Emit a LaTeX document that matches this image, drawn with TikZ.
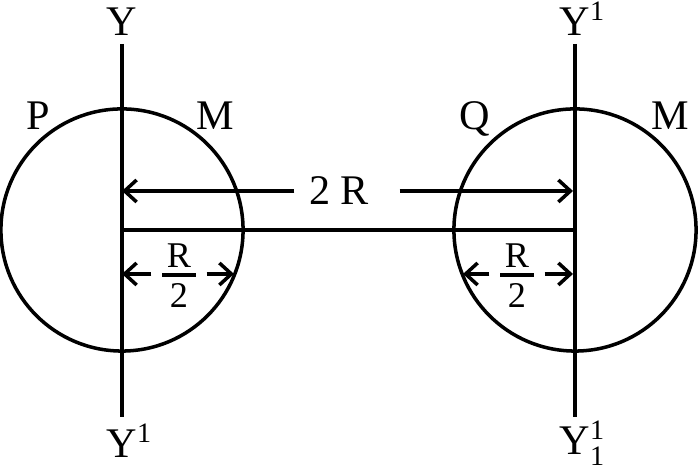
\documentclass[tikz,border=0pt]{standalone}
\usepackage{amsmath}
\usepackage{fontspec}
\setmainfont{Liberation Serif}
\usetikzlibrary{arrows.meta}
\newcommand\rhalf{\vbox{\hbox to 9.6pt{\hss R\hss}\kern1.4pt\hrule height 1.2pt\kern2pt\hbox to 9.6pt{\hss 2\hss}}}

\begin{document}
\begin{tikzpicture}
[x=.01cm,y=.01cm,line width=1pt]
\tikzset{lbl/.style={font=\fontsize{12}{14}\selectfont,inner sep=0pt}}
\tikzset{frc/.style={font=\fontsize{10.3}{12}\selectfont,inner sep=0pt}}
\tikzset{arr/.style={-{Straight Barb[length=1.2mm,width=2.2mm]}}}
\useasboundingbox (0,0) rectangle (699,474);
\draw (122,244) circle [radius=1.21cm];
\draw (575,244) circle [radius=1.21cm];
\coordinate (a1) at (122,430);
\coordinate (a2) at (122,57);
\coordinate (b1) at (575,430);
\coordinate (b2) at (575,57);
\coordinate (c1) at (122,244);
\coordinate (c2) at (575,244);
\coordinate (d1) at (122,283);
\coordinate (d2) at (573,283);
\coordinate (e1) at (122,200);
\coordinate (e2) at (234,200);
\coordinate (f1) at (463,200);
\coordinate (f2) at (573,200);
\node [lbl,anchor=base] (y1) at (122,438) {Y};
\node [lbl,anchor=base] (y2) at (122,16) {Y\rlap{$^{\text{1}}$}};
\node [lbl,anchor=base] (y3) at (575,438) {Y\rlap{$^{\text{1}}$}};
\node [lbl,anchor=base] (y4) at (575,19) {Y\rlap{$^{\text{1}}_{\text{1}}$}};
\node [lbl,anchor=base] (p) at (38,344) {P};
\node [lbl,anchor=base] (m1) at (215,344) {M};
\node [lbl,anchor=base] (q) at (475,344) {Q};
\node [lbl,anchor=base] (m2) at (670,344) {M};
\node [lbl] (r2) at (339,283) {2 R};
\node [frc,anchor=base] (h1) at (179,166) {\rhalf};
\node [frc,anchor=base] (h2) at (517,166) {\rhalf};

\foreach \from/\to in {a1/a2,b1/b2,c1/c2}
	\draw (\from) -- (\to);
\draw [arr,shorten <=.13cm] (r2) -- (d1);
\draw [arr,shorten <=.29cm] (r2) -- (d2);
\foreach \from/\side/\to in {h1/west/e1,h1/east/e2,h2/west/f1,h2/east/f2}
	\draw [arr,shorten <=.09cm] (\from.\side |- \to) -- (\to);
\end{tikzpicture}
\end{document}
